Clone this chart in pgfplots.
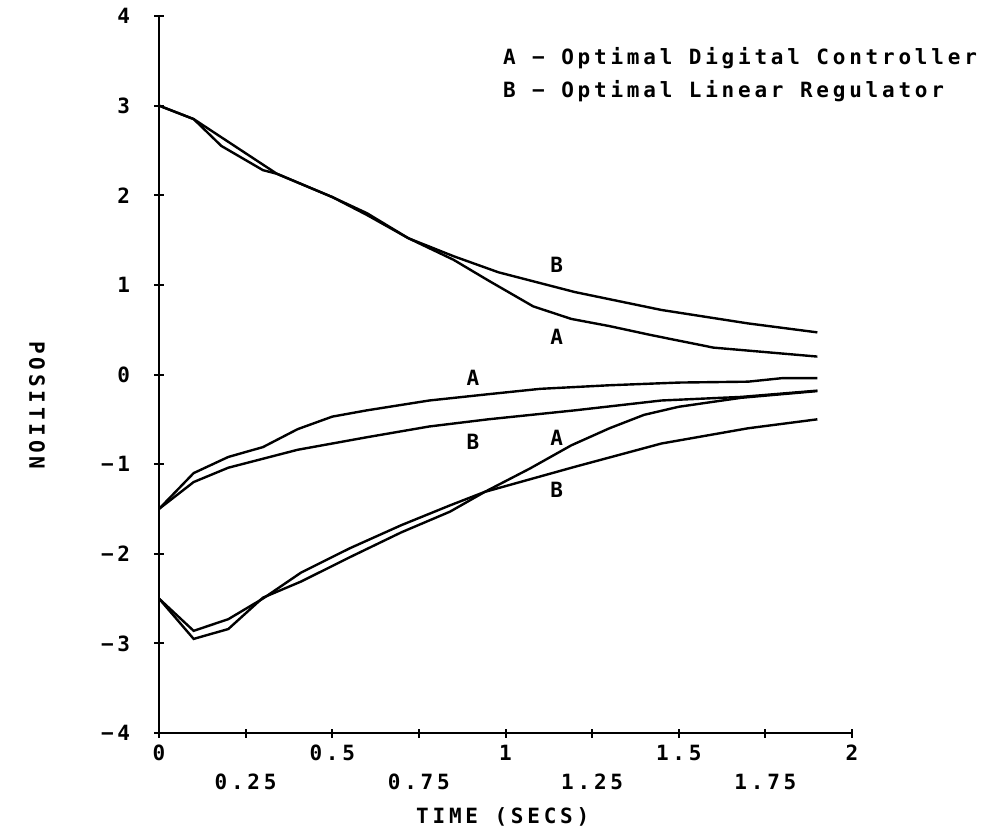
\documentclass[border=0pt]{standalone}
\usepackage{fontspec}
\usepackage{pgfplots}
\pgfplotsset{compat=1.18}
\setmainfont{DejaVu Sans Mono}[LetterSpace=18, UprightFont=*, BoldFont=* Bold]

\begin{document}
\begin{tikzpicture}
\begin{axis}[
  at={(0pt,0pt)}, anchor=south west,
  scale only axis, width=346.5pt, height=358.5pt,
  xmin=0, xmax=2, ymin=-4, ymax=4,
  axis lines*=left,
  axis line style={line width=1.3pt},
  tick align=center, major tick length=4.5pt,
  every tick/.style={black, line width=1pt},
  font=\fontsize{10.5pt}{12pt}\selectfont\bfseries,
  xtick={0,0.5,1,1.5,2},
  xticklabels={0,0.5,1,1.5,2},
  extra x ticks={0.25,0.75,1.25,1.75},
  extra x tick labels={0.25,0.75,1.25,1.75},
  extra x tick style={tick label style={yshift=-14.5pt}},
  xticklabel style={anchor=base, yshift=-11.5pt},
  ytick={-4,-3,-2,-1,0,1,2,3,4},
  yticklabels={−4,−3,−2,−1,0,1,2,3,4},
  yticklabel style={anchor=east, inner sep=0pt, xshift=-12pt},
  xlabel={TIME (SECS)},
  xlabel style={at={(axis description cs:0.496,0)}, anchor=base, yshift=-45pt},
  ylabel={POSITION},
  ylabel style={at={(axis description cs:-0.176,0.457)}, anchor=center, rotate=180},
  clip=false,
]
% upper pair, starting at 3
\addplot[black, line width=1.2pt] coordinates {
  (0,3) (0.1,2.85) (0.18,2.55) (0.3,2.28) (0.34,2.24) (0.5,1.98) (0.6,1.78)
  (0.72,1.52) (0.85,1.28) (0.95,1.05) (1.08,0.76) (1.19,0.62) (1.3,0.54)
  (1.42,0.44) (1.6,0.30) (1.75,0.25) (1.9,0.2)};
\addplot[black, line width=1.2pt] coordinates {
  (0,3) (0.1,2.85) (0.34,2.24) (0.5,1.98) (0.6,1.8) (0.72,1.52)
  (0.85,1.32) (0.98,1.14) (1.2,0.92) (1.45,0.72) (1.7,0.57) (1.9,0.47)};
% middle pair, starting at -1.5
\addplot[black, line width=1.2pt] coordinates {
  (0,-1.5) (0.1,-1.1) (0.2,-0.92) (0.3,-0.81) (0.4,-0.61) (0.5,-0.47)
  (0.6,-0.4) (0.78,-0.29) (0.95,-0.22) (1.1,-0.16) (1.3,-0.12) (1.5,-0.09)
  (1.7,-0.08) (1.8,-0.04) (1.9,-0.04)};
\addplot[black, line width=1.2pt] coordinates {
  (0,-1.5) (0.1,-1.2) (0.2,-1.04) (0.4,-0.84) (0.6,-0.7) (0.78,-0.58)
  (0.95,-0.5) (1.2,-0.4) (1.45,-0.29) (1.68,-0.25) (1.9,-0.18)};
% lower pair, starting at -2.5
\addplot[black, line width=1.2pt] coordinates {
  (0,-2.5) (0.1,-2.95) (0.2,-2.84) (0.3,-2.49) (0.41,-2.31) (0.55,-2.04)
  (0.7,-1.76) (0.84,-1.53) (0.94,-1.31) (1.07,-1.05) (1.19,-0.79) (1.3,-0.6)
  (1.4,-0.45) (1.5,-0.36) (1.68,-0.26) (1.9,-0.185)};
\addplot[black, line width=1.2pt] coordinates {
  (0,-2.5) (0.1,-2.86) (0.2,-2.73) (0.3,-2.5) (0.41,-2.21) (0.55,-1.94)
  (0.7,-1.68) (0.84,-1.46) (0.94,-1.31) (1.2,-1.03) (1.45,-0.77) (1.7,-0.6)
  (1.9,-0.5)};

% curve tags
\node at (axis cs:1.148,1.22) {B};
\node at (axis cs:1.148,0.42) {A};
\node at (axis cs:0.906,-0.04) {A};
\node at (axis cs:0.906,-0.75) {B};
\node at (axis cs:1.148,-0.71) {A};
\node at (axis cs:1.148,-1.29) {B};

% key
\node[anchor=base west, inner sep=0pt] at (rel axis cs:0.496,0.933) {A − Optimal Digital Controller};
\node[anchor=base west, inner sep=0pt] at (rel axis cs:0.496,0.886) {B − Optimal Linear Regulator};
\end{axis}
\pgfresetboundingbox
\path[use as bounding box] (-79.5pt,-48pt) rectangle (412pt,366.5pt);
\end{tikzpicture}
\end{document}
